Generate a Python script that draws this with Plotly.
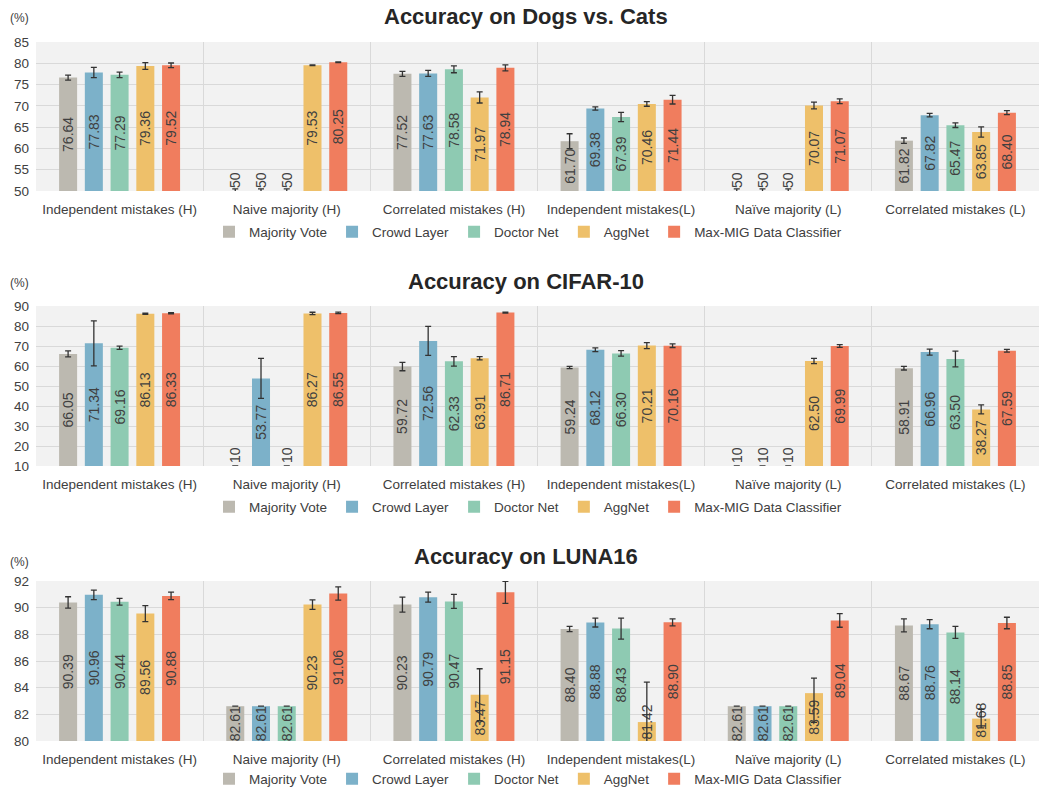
import plotly.graph_objects as go

# ---------------- data ----------------
categories = ["Independent mistakes (H)", "Naive majority (H)", "Correlated mistakes (H)",
              "Independent mistakes(L)", "Naïve majority (L)", "Correlated mistakes (L)"]
methods = ["Majority Vote", "Crowd Layer", "Doctor Net", "AggNet", "Max-MIG Data Classifier"]
colors = ["#bcb9b0", "#7cb1c9", "#8ecab2", "#eec06a", "#f07d5e"]

# Dogs vs. Cats (axis starts at 50; 50 = not applicable)
dogs_mv = [76.64, 50, 77.52, 61.70, 50, 61.82]
dogs_cl = [77.83, 50, 77.63, 69.38, 50, 67.82]
dogs_dn = [77.29, 50, 78.58, 67.39, 50, 65.47]
dogs_ag = [79.36, 79.53, 71.97, 70.46, 70.07, 63.85]
dogs_mm = [79.52, 80.25, 78.94, 71.44, 71.07, 68.40]
dogs_mv_err = [0.6, 0.5, 0.6, 1.75, 0.5, 0.63]
dogs_cl_err = [1.2, 0.5, 0.7, 0.4, 0.5, 0.43]
dogs_dn_err = [0.65, 0.5, 0.8, 1.1, 0.5, 0.55]
dogs_ag_err = [0.8, 0.1, 1.3, 0.55, 0.8, 1.2]
dogs_mm_err = [0.55, 0.1, 0.7, 1.0, 0.55, 0.47]

# CIFAR-10 (axis starts at 10; 10 = not applicable)
cifar_mv = [66.05, 10, 59.72, 59.24, 10, 58.91]
cifar_cl = [71.34, 53.77, 72.56, 68.12, 10, 66.96]
cifar_dn = [69.16, 10, 62.33, 66.30, 10, 63.50]
cifar_ag = [86.13, 86.27, 63.91, 70.21, 62.50, 38.27]
cifar_mm = [86.33, 86.55, 86.71, 70.16, 69.99, 67.59]
cifar_mv_err = [1.5, None, 2.1, 0.6, None, 0.9]
cifar_cl_err = [11.25, 10.0, 7.25, 0.9, None, 1.5]
cifar_dn_err = [0.8, None, 2.4, 1.4, None, 3.9]
cifar_ag_err = [0.3, 0.6, 0.8, 1.5, 1.3, 2.25]
cifar_mm_err = [0.3, 0.4, 0.2, 0.9, 0.7, 0.7]

# LUNA16 (axis starts at 80)
luna_mv = [90.39, 82.61, 90.23, 88.40, 82.61, 88.67]
luna_cl = [90.96, 82.61, 90.79, 88.88, 82.61, 88.76]
luna_dn = [90.44, 82.61, 90.47, 88.43, 82.61, 88.14]
luna_ag = [89.56, 90.23, 83.47, 81.42, 83.59, 81.68]
luna_mm = [90.88, 91.06, 91.15, 88.90, 89.04, 88.85]
luna_mv_err = [0.43, None, 0.56, 0.19, None, 0.49]
luna_cl_err = [0.35, None, 0.38, 0.33, None, 0.34]
luna_dn_err = [0.25, None, 0.53, 0.79, None, 0.45]
luna_ag_err = [0.6, 0.36, 1.95, 3.0, 1.12, 0.7]
luna_ag_err_minus = [0.6, 0.36, 1.95, 3.0, 2.2, 0.7]
luna_mm_err = [0.28, 0.5, 0.83, 0.26, 0.51, 0.43]

panels = [
    dict(title="Accuracy on Dogs vs. Cats", ymin=50, ymax=85, dtick=5,
         vals=[dogs_mv, dogs_cl, dogs_dn, dogs_ag, dogs_mm],
         errs=[dogs_mv_err, dogs_cl_err, dogs_dn_err, dogs_ag_err, dogs_mm_err],
         errs_minus=[None, None, None, None, None]),
    dict(title="Accuracy on CIFAR-10", ymin=10, ymax=90, dtick=10,
         vals=[cifar_mv, cifar_cl, cifar_dn, cifar_ag, cifar_mm],
         errs=[cifar_mv_err, cifar_cl_err, cifar_dn_err, cifar_ag_err, cifar_mm_err],
         errs_minus=[None, None, None, None, None]),
    dict(title="Accuracy on LUNA16", ymin=80, ymax=92, dtick=2,
         vals=[luna_mv, luna_cl, luna_dn, luna_ag, luna_mm],
         errs=[luna_mv_err, luna_cl_err, luna_dn_err, luna_ag_err, luna_mm_err],
         errs_minus=[None, None, None, luna_ag_err_minus, None]),
]

# ---------------- layout geometry (pixels) ----------------
W, H = 1040, 788
ML, MR = 36, 1
PW = W - ML - MR
plot_px = [(42, 191), (306, 466), (581, 741)]
title_px = [17, 281, 556]
unit_px = [18, 283, 562]
legend_px = [232, 507, 779]


def fx(p):
    return (p - ML) / PW


def fy(p):
    return 1 - p / H


FONT = "Liberation Sans, Arial, Helvetica, sans-serif"
TXT = "#404040"
GRID = "#d9d9d9"
NBSP = "\u00a0"

fig = go.Figure()
annotations = []
layout_axes = {}

for i, pan in enumerate(panels):
    n = "" if i == 0 else str(i + 1)
    xa, ya = "x" + n, "y" + n
    leg = "legend" + n
    base = pan["ymin"]
    span = pan["ymax"] - pan["ymin"]
    for j, m in enumerate(methods):
        vals = pan["vals"][j]
        labels, pos = [], []
        for v in vals:
            s = f"{v:.2f}".rstrip("0").rstrip(".") if v == base else f"{v:.2f}"
            frac = (v - base) / span
            if v == base:
                pos.append("outside")
            else:
                pos.append("inside")
                if frac < 0.15:
                    s = NBSP * 5 + s
            labels.append(s)
        err = dict(type="data", array=pan["errs"][j], visible=True,
                   color="#333333", thickness=1.3, width=3)
        if pan["errs_minus"][j] is not None:
            err["symmetric"] = False
            err["arrayminus"] = pan["errs_minus"][j]
        fig.add_trace(go.Bar(
            x=categories, y=[v - base for v in vals], base=base,
            name=m, legend=leg, xaxis=xa, yaxis=ya,
            marker=dict(color=colors[j], line=dict(width=0)),
            error_y=err,
            text=labels, textposition=pos, textangle=-90,
            insidetextanchor="middle", constraintext="none",
            textfont=dict(family=FONT, size=14, color=TXT),
            customdata=vals,
            hovertemplate=m + "<br>%{x}: %{customdata:.2f}%<extra></extra>",
        ))

    y0, y1 = plot_px[i]
    layout_axes["xaxis" + n] = dict(
        domain=[0, 1], anchor=ya, type="category", tickson="boundaries",
        showgrid=True, gridcolor=GRID, gridwidth=1, ticks="", zeroline=False,
        showline=False, tickfont=dict(family=FONT, size=13.5, color=TXT),
        ticklabelstandoff=8, categoryorder="array", categoryarray=categories,
        automargin=False,
    )
    layout_axes["yaxis" + n] = dict(
        domain=[fy(y1), fy(y0)], anchor=xa, range=[pan["ymin"], pan["ymax"]],
        tick0=pan["ymin"], dtick=pan["dtick"], showgrid=True, gridcolor=GRID,
        gridwidth=1, zeroline=False, showline=False, ticks="",
        tickfont=dict(family=FONT, size=13.5, color=TXT), ticklabelstandoff=6,
        automargin=False,
    )
    layout_axes[leg] = dict(
        orientation="h", x=fx(528), xanchor="center", y=fy(legend_px[i]),
        yanchor="middle", font=dict(family=FONT, size=13.5, color=TXT),
        bgcolor="rgba(0,0,0,0)", itemwidth=30, traceorder="normal",
    )
    annotations.append(dict(
        text="<b>" + pan["title"] + "</b>", xref="paper", yref="paper",
        x=fx(526), y=fy(title_px[i]), xanchor="center", yanchor="middle",
        showarrow=False, font=dict(family=FONT, size=22, color="#262626"),
    ))
    annotations.append(dict(
        text="(%)", xref="paper", yref="paper", x=fx(19), y=fy(unit_px[i]),
        xanchor="center", yanchor="middle", showarrow=False,
        font=dict(family=FONT, size=12, color=TXT),
    ))

fig.update_layout(
    width=W, height=H,
    margin=dict(l=ML, r=MR, t=0, b=0, autoexpand=False),
    paper_bgcolor="white", plot_bgcolor="#f2f2f2",
    barmode="group", bargap=0.23, bargroupgap=0.3,
    uniformtext=dict(minsize=14, mode="show"),
    font=dict(family=FONT, color=TXT),
    annotations=annotations,
    **layout_axes,
)

fig.write_html("out.html",
               config={"displayModeBar": False},
               post_script="document.body.style.margin='0px';"
                           "document.body.style.overflow='hidden';")
